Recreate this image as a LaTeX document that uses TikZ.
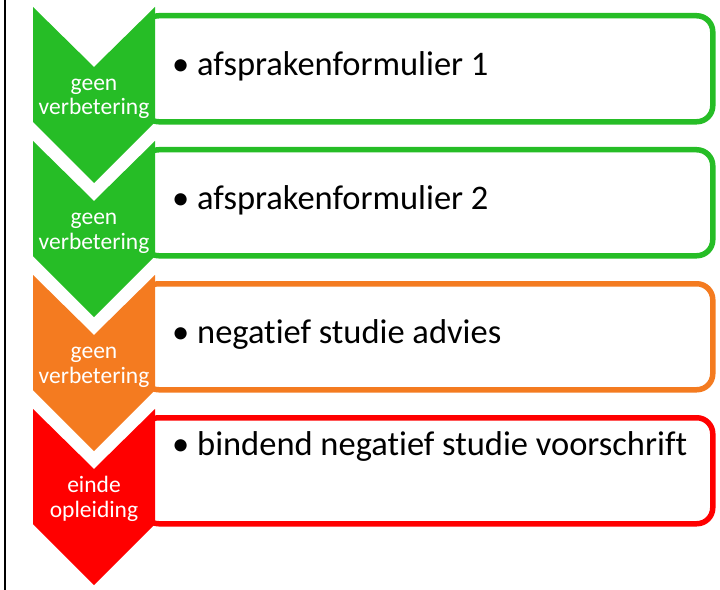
\documentclass[tikz,border=0pt]{standalone}
\usepackage{fontspec}
\setmainfont{Carlito}[Ligatures=NoCommon]

\definecolor{okgreen}{RGB}{38,189,38}
\definecolor{warnorange}{RGB}{244,123,32}
\definecolor{stopred}{RGB}{255,0,0}

\tikzset{
  stepbox/.style={draw, line width=5.5bp, rounded corners=16bp, fill=white,
    minimum width=570bp, minimum height=106bp, inner sep=0pt, anchor=north west},
  steptext/.style={anchor=base west, inner sep=0pt, font=\fontsize{34.6}{40}\selectfont},
  arrowtext/.style={align=center, text=white, inner sep=0pt, anchor=base,
    font=\fontsize{23.6}{24.5}\selectfont}
}

\begin{document}
\begin{tikzpicture}[x=1bp, y=-1bp]
\useasboundingbox (0,0) rectangle (720,590);

% time line
\coordinate (top) at (5,0);
\coordinate (bottom) at (5,590);
\draw[line width=2bp] (top) -- (bottom);

% boxes
\node (box1) [stepbox, draw=okgreen] at (140,13) {};
\node (box2) [stepbox, draw=okgreen] at (140,147) {};
\node (box3) [stepbox, draw=warnorange] at (140,281) {};
\node (box4) [stepbox, draw=stopred] at (140,415) {};

% chevrons
\fill[okgreen] (33,7) -- (94,67) -- (155,7) -- (155,122) -- (94,183) -- (33,122) -- cycle;
\fill[okgreen] (33,141) -- (94,201) -- (155,141) -- (155,256) -- (94,317) -- (33,256) -- cycle;
\fill[warnorange] (33,275) -- (94,335) -- (155,275) -- (155,390) -- (94,451) -- (33,390) -- cycle;
\fill[stopred] (33,409) -- (94,469) -- (155,409) -- (155,524) -- (94,585) -- (33,524) -- cycle;

% labels (base = last line)
\node (lab1) [arrowtext] at (94,115) {geen\\verbetering};
\node (lab2) [arrowtext] at (94,249) {geen\\verbetering};
\node (lab3) [arrowtext] at (94,383) {geen\\verbetering};
\node (lab4) [arrowtext] at (94,517) {einde\\opleiding};

% texts
\node (txt1) [steptext] at (172,76) {• afsprakenformulier 1};
\node (txt2) [steptext] at (172,210) {• afsprakenformulier 2};
\node (txt3) [steptext] at (172,343) {• negatief studie advies};
\node (txt4) [steptext] at (172,455) {• bindend negatief studie voorschrift};
\end{tikzpicture}
\end{document}
